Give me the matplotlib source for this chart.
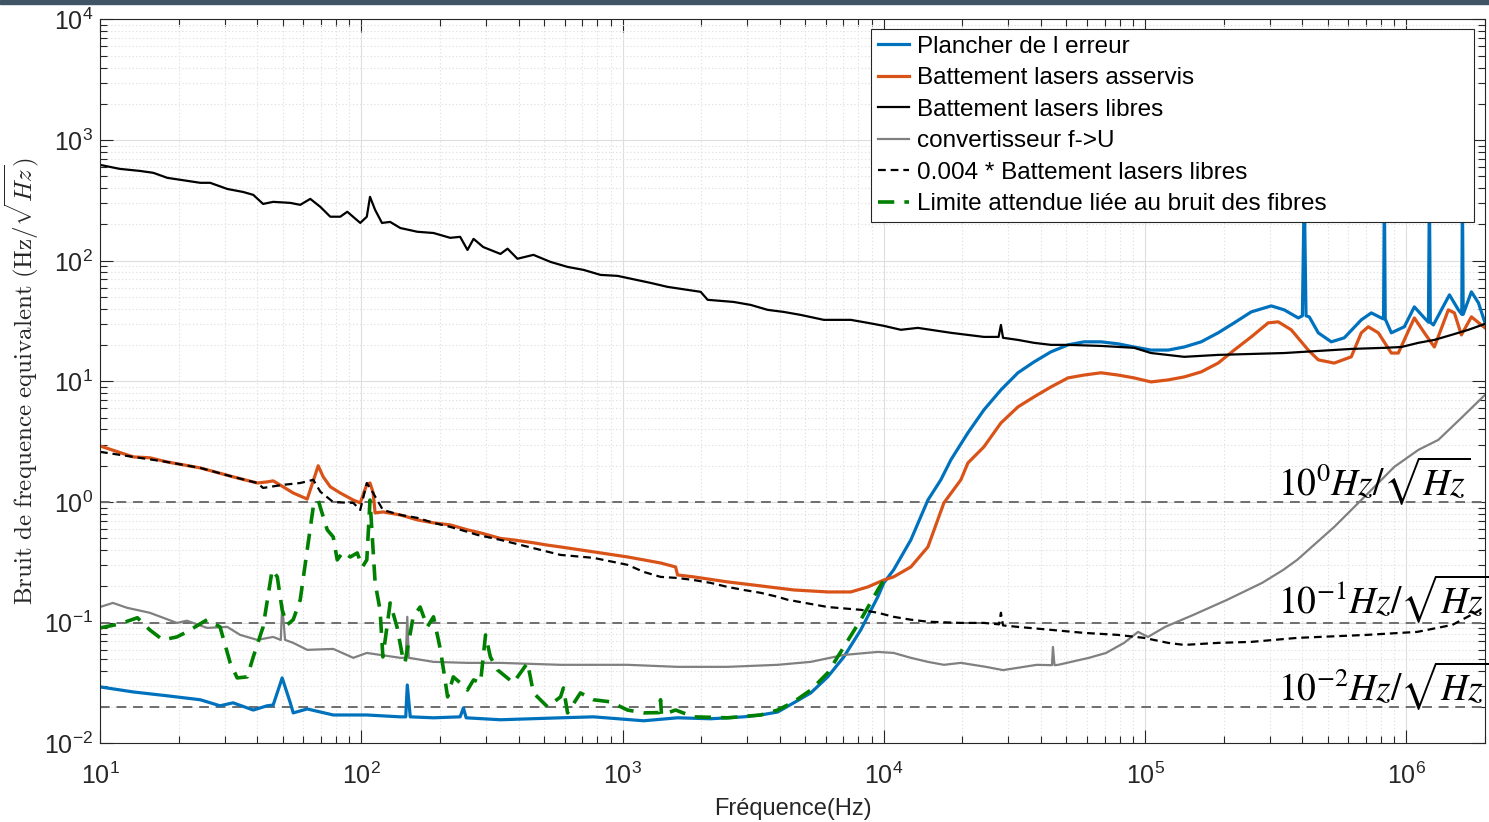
import numpy as np
import matplotlib
matplotlib.use("Agg")
import matplotlib.pyplot as plt
from matplotlib.ticker import LogLocator, NullFormatter
from matplotlib.patches import Rectangle

plt.rcParams.update({"font.family": ["Liberation Sans", "DejaVu Sans"], "axes.linewidth": 0.8})

# (frequency Hz, value Hz/sqrt(Hz))
PLANCHER = [(10, 0.0294), (13.4, 0.0267), (18.1, 0.0248), (24.2, 0.0230), (28.8, 0.0205), (32.3, 0.0217),
            (38.6, 0.0189), (43.6, 0.0205), (46.0, 0.0208), (49.8, 0.0349), (53.5, 0.0217), (54.9, 0.0179),
            (62.1, 0.0193), (78.1, 0.0172), (105, 0.0172), (141, 0.0166), (148, 0.0166), (150, 0.0305),
            (154, 0.0166), (189, 0.0163), (239, 0.0166), (246, 0.0197), (252, 0.0163), (341, 0.0157),
            (579, 0.0163), (774, 0.0166), (1204, 0.0154), (1624, 0.0163), (2174, 0.0160), (2908, 0.0166),
            (3379, 0.0172), (3925, 0.0182), (4522, 0.0217), (5253, 0.0262), (6102, 0.0356), (7028, 0.0521),
            (8164, 0.0873), (9485, 0.164), (10000, 0.214), (10900, 0.274), (12690, 0.486), (14750, 1.04),
            (16530, 1.53), (18060, 2.24), (20980, 3.75), (24160, 5.81), (28070, 8.51), (32610, 11.8),
            (37550, 14.5), (43630, 17.6), (50700, 20.1), (58400, 21.3), (67830, 21.3), (78800, 20.5),
            (90760, 19.3), (105400, 18.2), (122500, 18.2), (141100, 19.3), (163900, 21.3), (190400, 25.3),
            (219300, 30.6), (254800, 37.7), (304000, 42.3), (340900, 39.2), (385700, 33.6), (400000, 35),
            (406600, 400), (413000, 35), (425000, 34.3), (460100, 25.3), (516000, 21.3), (578700, 23.0),
            (672300, 32.4), (734300, 37.0), (802000, 33.6), (818000, 33), (823900, 400), (830000, 33),
            (876000, 25.3), (982400, 28.4), (1.073e6, 41.5), (1.172e6, 33.6), (1.215e6, 31), (1.225e6, 400),
            (1.235e6, 31), (1.269e6, 29.4), (1.362e6, 39.2), (1.462e6, 52.2), (1.582e6, 39.2), (1.63e6, 36),
            (1.639e6, 400), (1.65e6, 36), (1.774e6, 55.3), (1.888e6, 44.8), (2.0e6, 30.6)]

ASSERVIS = [(10, 2.92), (13.4, 2.37), (15.5, 2.33), (18.1, 2.15), (24.2, 1.92), (32.3, 1.62), (40.0, 1.44),
            (43.6, 1.47), (46.0, 1.50), (50.2, 1.34), (54.9, 1.19), (62.1, 1.06), (65.5, 1.50), (68.4, 2.00),
            (71.5, 1.62), (76.1, 1.34), (83.1, 1.19), (93.2, 1.04), (99.1, 0.985), (105, 1.40), (108, 1.44),
            (111, 1.20), (113, 0.813), (121, 0.829), (141, 0.783), (164, 0.712), (189, 0.673), (219, 0.647),
            (255, 0.589), (286, 0.556), (341, 0.50), (382, 0.486), (456, 0.46), (516, 0.44), (579, 0.425),
            (774, 0.387), (1045, 0.351), (1398, 0.313), (1596, 0.290), (1624, 0.249), (1871, 0.240),
            (2525, 0.218), (3379, 0.202), (4522, 0.187), (6102, 0.180), (7474, 0.180), (8683, 0.198),
            (10000, 0.226), (10900, 0.240), (12690, 0.290), (14750, 0.425), (16980, 0.985), (19720, 1.53),
            (20980, 2.11), (24160, 2.87), (28070, 4.53), (32610, 6.15), (37550, 7.44), (43630, 9.01),
            (50700, 10.7), (58400, 11.3), (67830, 11.8), (78800, 11.3), (90760, 10.7), (105400, 9.91),
            (122500, 10.3), (141100, 10.9), (163900, 12.0), (190400, 14.2), (219300, 18.2), (254800, 23.4),
            (296000, 30.6), (323300, 31.2), (362500, 26.8), (421200, 18.2), (460100, 15.1), (529700, 14.2),
            (615500, 16.0), (672300, 25.3), (715100, 28.4), (781000, 25.3), (876000, 17.2), (931700, 17.2),
            (1.073e6, 33.6), (1.172e6, 25.3), (1.28e6, 19.3), (1.448e6, 39.2), (1.527e6, 37.0),
            (1.624e6, 24.3), (1.774e6, 34.3), (2.0e6, 27.8)]

LIBRES = [(10, 624), (11.9, 578), (14.2, 556), (16.0, 536), (18.1, 487), (24.2, 443), (26.4, 443),
          (30.7, 394), (35.3, 372), (38.6, 352), (42.1, 296), (46.0, 308), (53.5, 302), (58.4, 291),
          (63.8, 326), (69.7, 280), (76.1, 232), (83.1, 232), (88.4, 255), (99.1, 206), (105, 232),
          (108, 339), (113, 264), (120, 206), (129, 210), (141, 187), (164, 174), (189, 170), (219, 155),
          (239, 158), (255, 123), (269, 152), (293, 130), (341, 114), (363, 126), (396, 104), (456, 112),
          (530, 97.9), (616, 89.0), (709, 84.1), (824, 76.4), (957, 75), (1280, 65.6), (1487, 60.8),
          (1991, 55.3), (2117, 47.5), (2663, 45.6), (3093, 43.1), (3594, 39.2), (4139, 37.7), (4809, 35.6),
          (5891, 32.4), (7474, 32.4), (8683, 30.6), (10000, 28.9), (11620, 26.8), (13500, 27.8),
          (18060, 25.3), (24160, 23.4), (27500, 23.4), (28070, 29.4), (28600, 23.0), (32610, 22.1),
          (37550, 20.9), (43630, 20.1), (50700, 20.1), (67830, 19.7), (90760, 19.0), (105400, 17.2),
          (141100, 16.0), (190400, 16.6), (254800, 16.9), (340900, 17.2), (460100, 17.9), (615500, 18.6),
          (823900, 19.0), (957000, 19.3), (1.112e6, 20.9), (1.28e6, 22.1), (1.487e6, 24.3),
          (1.728e6, 26.8), (2.0e6, 30.0)]

CONVERTISSEUR = [(10, 0.135), (11.2, 0.146), (12.7, 0.133), (15.5, 0.121), (19.7, 0.0997), (21.5, 0.104),
                 (25.7, 0.0906), (30.7, 0.0924), (34.4, 0.0793), (40.0, 0.0721), (46.0, 0.0763), (49.2, 0.072),
                 (49.8, 0.141), (51.1, 0.0721), (54.9, 0.0681), (62.1, 0.0596), (78.1, 0.0607), (93.2, 0.0512),
                 (105, 0.0562), (141, 0.0512), (148, 0.0512), (150, 0.112), (152, 0.0512), (189, 0.0474),
                 (255, 0.0465), (341, 0.0465), (579, 0.0448), (1045, 0.0448), (1624, 0.0431), (2525, 0.0431),
                 (3925, 0.0448), (5253, 0.0474), (7028, 0.0541), (9485, 0.0573), (10900, 0.0562),
                 (12690, 0.0512), (14750, 0.0474), (16980, 0.0448), (19720, 0.0465), (24600, 0.0431),
                 (28600, 0.0405), (38500, 0.0448), (44000, 0.0445), (44400, 0.0630), (45000, 0.0445),
                 (46500, 0.0448), (61000, 0.0512), (70900, 0.0562), (83100, 0.0681), (94000, 0.0840),
                 (102600, 0.0763), (119300, 0.0924), (152800, 0.116), (206200, 0.155), (280500, 0.214),
                 (337800, 0.274), (382000, 0.332), (529700, 0.623), (715100, 1.19), (899500, 1.96),
                 (1.112e6, 2.71), (1.326e6, 3.28), (1.624e6, 4.99), (2.0e6, 7.74)]

LIBRES_X0004 = [(10, 2.61), (13.4, 2.37), (18.1, 2.15), (24.2, 1.92), (32.3, 1.62), (40.0, 1.44), (42.1, 1.31),
                (46, 1.35), (50.2, 1.39), (58.4, 1.44), (65.5, 1.53), (69.7, 1.22), (78.1, 1.00), (93.2, 0.985),
                (99.1, 0.861), (105, 1.44), (111, 1.19), (121, 0.861), (141, 0.783), (164, 0.740), (189, 0.673),
                (219, 0.623), (255, 0.567), (278, 0.535), (341, 0.486), (579, 0.365), (774, 0.345),
                (1045, 0.302), (1204, 0.264), (1398, 0.240), (1624, 0.235), (1871, 0.226), (2174, 0.214),
                (2525, 0.198), (2908, 0.187), (3379, 0.177), (3925, 0.164), (4288, 0.155), (6102, 0.135),
                (7474, 0.13), (8164, 0.128), (9485, 0.121), (10900, 0.112), (12690, 0.106), (14750, 0.102),
                (19720, 0.0997), (24160, 0.0997), (27600, 0.097), (28070, 0.121), (28600, 0.095),
                (32610, 0.0924), (43630, 0.0873), (58400, 0.0824), (78800, 0.0793), (99130, 0.0749),
                (122500, 0.0681), (141100, 0.0655), (190400, 0.0681), (254800, 0.0694), (382000, 0.0749),
                (703000, 0.0793), (1.101e6, 0.0840), (1.5e6, 0.0960), (1.888e6, 0.125), (2.0e6, 0.137)]

FIBRES = [(10, 0.0906), (11.9, 0.0978), (13.9, 0.110), (15.5, 0.0873), (17.4, 0.0721), (19.7, 0.0763),
          (21.5, 0.0840), (25.7, 0.106), (28.8, 0.0924), (31.5, 0.0465), (33.5, 0.0349), (36.6, 0.0356),
          (38.6, 0.0521), (42.1, 0.0924), (45.6, 0.274), (47.7, 0.240), (49.8, 0.128), (52.0, 0.0960),
          (54.9, 0.106), (58.4, 0.155), (62.1, 0.402), (65.5, 0.912), (68.4, 1.04), (71.5, 0.754),
          (74.1, 0.589), (78.1, 0.514), (80.9, 0.332), (85.3, 0.387), (90.8, 0.351), (96.5, 0.379),
          (101, 0.290), (105, 0.332), (108, 1.04), (113, 0.214), (118, 0.128), (121, 0.0521), (129, 0.146),
          (137, 0.0924), (144, 0.0521), (147, 0.0465), (158, 0.112), (168, 0.135), (179, 0.0924),
          (189, 0.112), (201, 0.0596), (214, 0.0243), (225, 0.0356), (239, 0.0318), (255, 0.0277),
          (269, 0.0336), (286, 0.0318), (299, 0.0793), (312, 0.0521), (332, 0.0407), (382, 0.0318),
          (433, 0.0465), (456, 0.0262), (516, 0.0201), (579, 0.0243), (594, 0.0288), (616, 0.0179),
          (690, 0.0262), (774, 0.0230), (899, 0.0221), (1045, 0.0189), (1204, 0.0179), (1380, 0.0180),
          (1398, 0.0230), (1410, 0.0172), (1596, 0.0189), (1871, 0.0166), (2525, 0.0163), (3379, 0.0172),
          (3925, 0.0189), (4522, 0.0221), (5253, 0.0277), (6102, 0.0384), (7028, 0.0630), (8164, 0.106),
          (9485, 0.187), (10000, 0.226)]

REF_LEVELS = [1.0, 0.1, 0.02]
REF_LABELS = [r"$10^{0}Hz/\sqrt{Hz}$", r"$10^{-1}Hz/\sqrt{Hz}$", r"$10^{-2}Hz/\sqrt{Hz}$"]
REF_LABEL_Y = [1.15, 0.121, 0.0229]

SERIES = [
    (PLANCHER, "Plancher de l erreur", dict(color="#0072BD", lw=2.3)),
    (ASSERVIS, "Battement lasers asservis", dict(color="#D95319", lw=2.3)),
    (LIBRES, "Battement lasers libres", dict(color="black", lw=1.6)),
    (CONVERTISSEUR, "convertisseur f->U", dict(color="#808080", lw=1.6)),
    (LIBRES_X0004, "0.004 * Battement lasers libres", dict(color="black", lw=1.6, ls=(0, (3.5, 2.2)))),
    (FIBRES, "Limite attendue liée au bruit des fibres", dict(color="#008000", lw=2.6, ls=(0, (4.5, 2.8)))),
]

fig = plt.figure(figsize=(14.89, 8.22), dpi=100)
ax = fig.add_axes([100 / 1489, 1 - 743.4 / 822, 1385 / 1489, (743.4 - 19.5) / 822])
fig.patches.append(Rectangle((0, 1 - 4 / 822), 1, 4 / 822, transform=fig.transFigure,
                             color="#3f5566", zorder=0))

for lvl in REF_LEVELS:
    ax.axhline(lvl, color="#6e6e6e", lw=1.4, ls=(0, (5, 3.5)), zorder=1.5)

for data, name, style in SERIES:
    f, v = zip(*data)
    ax.plot(f, v, label=name, zorder=2, **style)

ax.set_xscale("log"); ax.set_yscale("log")
ax.set_xlim(10, 2e6); ax.set_ylim(1e-2, 1e4)
for a in (ax.xaxis, ax.yaxis):
    a.set_major_locator(LogLocator(base=10, numticks=20))
    a.set_minor_locator(LogLocator(base=10, subs=np.arange(2, 10), numticks=20))
    a.set_minor_formatter(NullFormatter())
ax.tick_params(which="both", direction="in", top=True, right=True, colors="#262626",
               labelsize=18, width=0.8)
ax.tick_params(which="major", length=9.5)
ax.tick_params(which="minor", length=5)
ax.tick_params(axis="x", pad=14)
ax.tick_params(axis="y", pad=5)
ax.grid(True, which="major", color="#dedede", lw=0.8)
ax.grid(True, which="minor", color="#e2e2e2", lw=0.8, ls=(0, (1.2, 2)))
ax.set_axisbelow(True)
for s in ax.spines.values():
    s.set_color("#262626")

ax.set_xlabel("Fréquence(Hz)", fontsize=17, color="#262626", labelpad=6)
ax.set_ylabel(r"$\mathrm{Bruit\ de\ frequence\ equivalent}\ (\mathrm{Hz}/\sqrt{Hz})$",
              fontsize=18, math_fontfamily="cm", color="#262626", labelpad=2)

for lab, yv in zip(REF_LABELS, REF_LABEL_Y):
    ax.text(3.22e5, yv, lab, fontsize=27, math_fontfamily="stix", va="baseline", ha="left",
            color="black", clip_on=False, zorder=5)

# legend frame spans the same box as in the MATLAB figure (wider than its text)
leg = ax.legend(loc="upper left", bbox_to_anchor=(871 / 1489, 1 - 222 / 822, 603 / 1489, 193 / 822),
                bbox_transform=fig.transFigure, mode="expand", fontsize=17.5, frameon=True,
                fancybox=False, edgecolor="#262626", framealpha=1, borderpad=0.28,
                labelspacing=0.39, handlelength=1.3, handletextpad=0.3, borderaxespad=0)
leg.get_frame().set_linewidth(0.8)
leg.set_zorder(6)

fig.savefig("out.png", dpi=100)
